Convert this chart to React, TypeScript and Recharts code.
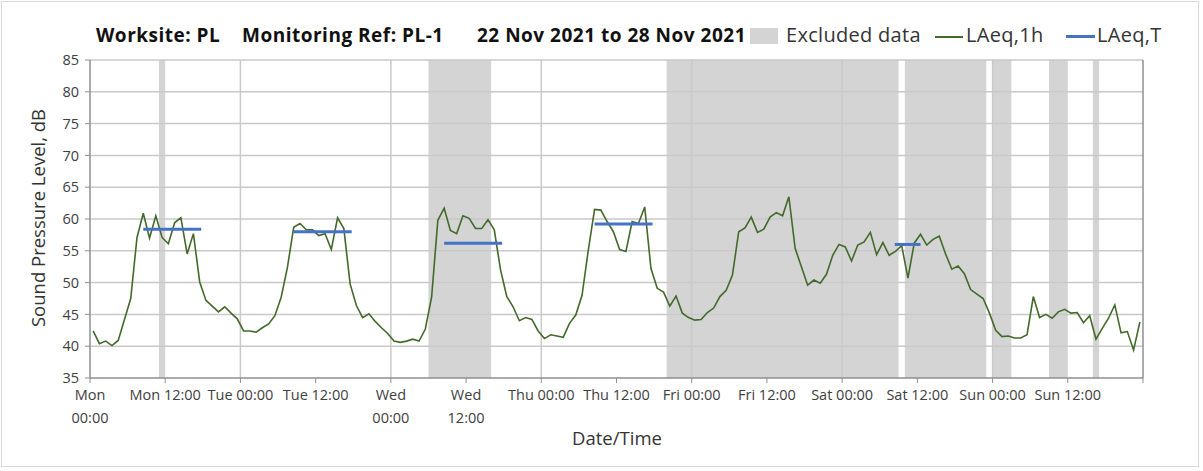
import { ComposedChart, Line, XAxis, YAxis, ReferenceArea, ReferenceLine } from 'recharts'

// hourly LAeq,1h values, Mon 00:00 .. Sun 23:00 (plotted at mid-hour)
const laeq1h = [
  42.4, 40.4, 40.8, 40.1, 40.9, 44.2, 47.5, 57.1, 60.9, 57.0, 60.5, 57.1,
  56.1, 59.4, 60.2, 54.5, 57.7, 50.1, 47.2, 46.3, 45.4, 46.2, 45.2, 44.3,
  42.4, 42.4, 42.2, 42.9, 43.5, 44.8, 47.7, 52.4, 58.7, 59.3, 58.3, 58.3,
  57.4, 57.7, 55.2, 60.2, 58.5, 49.8, 46.4, 44.5, 45.1, 43.9, 42.9, 42.0,
  40.8, 40.6, 40.8, 41.1, 40.8, 42.7, 47.7, 59.8, 61.7, 58.2, 57.7, 60.5,
  60.1, 58.5, 58.5, 59.9, 58.3, 52.0, 47.8, 46.2, 44.0, 44.5, 44.2, 42.4,
  41.2, 41.8, 41.6, 41.4, 43.6, 44.9, 48.0, 55.1, 61.5, 61.4, 59.6, 58.0,
  55.2, 54.9, 59.6, 59.3, 61.9, 52.2, 49.1, 48.5, 46.3, 47.9, 45.2, 44.5,
  44.1, 44.2, 45.3, 46.0, 47.8, 48.8, 51.2, 58.0, 58.6, 60.3, 57.9, 58.4,
  60.3, 61.0, 60.5, 63.5, 55.4, 52.5, 49.6, 50.4, 49.9, 51.3, 54.3, 56.0,
  55.6, 53.4, 55.9, 56.4, 57.9, 54.4, 56.3, 54.3, 54.9, 55.8, 50.7, 56.2,
  57.6, 55.9, 56.8, 57.3, 54.5, 52.1, 52.6, 51.4, 48.9, 48.2, 47.5, 45.2,
  42.5, 41.5, 41.6, 41.3, 41.3, 41.8, 47.8, 44.5, 45.0, 44.4, 45.4, 45.8,
  45.2, 45.3, 43.7, 44.8, 41.1, 42.8, 44.4, 46.5, 42.1, 42.3, 39.4, 43.8,
]

// daytime LAeq,T periods (hours from Mon 00:00)
const periodFrom = [8.5, 32.5, 56.5, 80.5, 128.4]
const periodTo = [17.75, 41.75, 65.75, 89.75, 132.5]
const periodLevel = [58.4, 58.0, 56.2, 59.2, 56.0]

// excluded data windows (hours from Mon 00:00)
const excludedFrom = [11, 54, 92, 130, 144, 153, 160]
const excludedTo = [12, 64, 129, 143, 147, 156, 161]

const tickHours = [0, 12, 24, 36, 48, 60, 72, 84, 96, 108, 120, 132, 144, 156, 168]
const tickLabels = [
  'Mon\n00:00', 'Mon 12:00', 'Tue 00:00', 'Tue 12:00', 'Wed\n00:00', 'Wed\n12:00',
  'Thu 00:00', 'Thu 12:00', 'Fri 00:00', 'Fri 12:00', 'Sat 00:00', 'Sat 12:00',
  'Sun 00:00', 'Sun 12:00', '',
]
const dayLines = [24, 48, 72, 96, 120, 144, 168]
const yTicks = [35, 40, 45, 50, 55, 60, 65, 70, 75, 80, 85]

const FONT = '"Open Sans", sans-serif'
const GRID = '#c9c9c9'
const AXIS = '#8f8f8f'

const hourly = laeq1h.map((v, i) => ({ h: i + 0.5, v }))

function TimeTick({ x, y, payload }: any) {
  const idx = tickHours.indexOf(payload.value)
  const lines = (tickLabels[idx] ?? '').split('\n')
  return (
    <text x={x} y={y + 15} textAnchor="middle" fill="#404040" fontSize={14.5} fontFamily={FONT}>
      {lines.map((l, k) => (
        <tspan key={k} x={x} dy={k === 0 ? 0 : 23}>{l}</tspan>
      ))}
    </text>
  )
}

export default function App() {
  return (
    <div style={{ position: 'absolute', left: 0, top: 0, width: 1203, height: 471, background: '#fff', fontFamily: FONT }}>
      <div style={{ position: 'absolute', left: 1, top: 1, width: 1196, height: 464, border: '1px solid #d9d9d9' }} />

      <div style={{ position: 'absolute', top: 22, left: 0, fontSize: 19, fontWeight: 700, color: '#111', whiteSpace: 'nowrap', letterSpacing: 0.5 }}>
        <span style={{ position: 'absolute', left: 96 }}>Worksite: PL</span>
        <span style={{ position: 'absolute', left: 242 }}>Monitoring Ref: PL-1</span>
        <span style={{ position: 'absolute', left: 477 }}>22 Nov 2021 to 28 Nov 2021</span>
      </div>
      <div style={{ position: 'absolute', top: 21, left: 0, fontSize: 20, color: '#333', whiteSpace: 'nowrap', letterSpacing: 0.3 }}>
        <span style={{ position: 'absolute', left: 750, top: 7, width: 28, height: 16, background: '#d4d4d4' }} />
        <span style={{ position: 'absolute', left: 786 }}>Excluded data</span>
        <span style={{ position: 'absolute', left: 935, top: 15, width: 28, height: 1.5, background: '#43692b' }} />
        <span style={{ position: 'absolute', left: 966 }}>LAeq,1h</span>
        <span style={{ position: 'absolute', left: 1066, top: 14, width: 29, height: 3, background: '#4472C4' }} />
        <span style={{ position: 'absolute', left: 1097 }}>LAeq,T</span>
      </div>

      <div style={{ position: 'absolute', left: 37, top: 218, transform: 'translate(-50%, -50%) rotate(-90deg)', fontSize: 18.5, color: '#333', whiteSpace: 'nowrap' }}>
        Sound Pressure Level, dB
      </div>
      <div style={{ position: 'absolute', left: 617, top: 437, transform: 'translate(-50%, -50%)', fontSize: 18.5, color: '#333', whiteSpace: 'nowrap' }}>
        Date/Time
      </div>

      <div style={{ position: 'absolute', left: 0, top: 0 }}>
        <ComposedChart width={1203} height={471} margin={{ top: 60, right: 60, bottom: 43, left: 50 }}>
          <XAxis
            type="number"
            dataKey="h"
            domain={[0, 168]}
            ticks={tickHours}
            interval={0}
            tick={<TimeTick />}
            tickSize={5}
            height={50}
            axisLine={{ stroke: AXIS, strokeWidth: 1.5 }}
            tickLine={{ stroke: AXIS }}
            allowDataOverflow
          />
          <YAxis
            type="number"
            domain={[35, 85]}
            ticks={yTicks}
            interval={0}
            width={40}
            tickSize={5}
            tickMargin={6}
            axisLine={{ stroke: AXIS, strokeWidth: 1.5 }}
            tickLine={{ stroke: AXIS }}
            tick={{ fill: '#404040', fontSize: 14.5, fontFamily: FONT }}
          />
          {excludedFrom.map((x1, i) => (
            <ReferenceArea key={'ex' + i} x1={x1} x2={excludedTo[i]} y1={35} y2={85} fill="#d4d4d4" fillOpacity={1} stroke="none" />
          ))}
          {yTicks.slice(1).map((t) => (
            <ReferenceLine key={'gy' + t} y={t} stroke={GRID} strokeWidth={1.5} />
          ))}
          {dayLines.map((t) => (
            <ReferenceLine key={'gx' + t} x={t} stroke={t === 168 ? AXIS : GRID} strokeWidth={1.5} />
          ))}
          <Line
            data={hourly}
            dataKey="v"
            stroke="#43692b"
            strokeWidth={1.6}
            dot={false}
            isAnimationActive={false}
          />
          {periodFrom.map((from, i) => (
            <Line
              key={'p' + i}
              data={[{ h: from, v: periodLevel[i] }, { h: periodTo[i], v: periodLevel[i] }]}
              dataKey="v"
              stroke="#4472C4"
              strokeWidth={3}
              dot={false}
              isAnimationActive={false}
            />
          ))}
        </ComposedChart>
      </div>
    </div>
  )
}
